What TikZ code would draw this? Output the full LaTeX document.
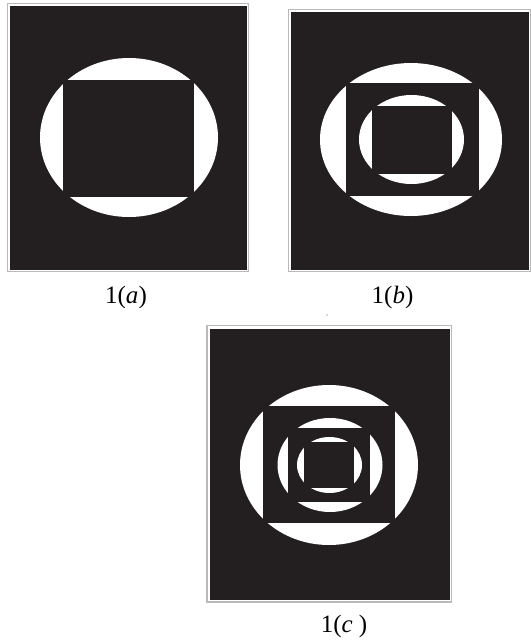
\documentclass[tikz,border=0pt]{standalone}
\usepackage{fontspec}
\setmainfont{Liberation Serif}
\usetikzlibrary{positioning}
\definecolor{inkblack}{HTML}{231F20}

\begin{document}
\begin{tikzpicture}[
                x=1pt, y=-1pt,
                panel/.style={fill=inkblack},
                frame/.style={draw=gray!55, line width=1.3pt},
                hole/.style={fill=white},
                plug/.style={fill=inkblack},
                caption/.style={anchor=base, inner sep=0pt, font=\fontsize{25}{28}\selectfont}
            ]
            \useasboundingbox (0,0) rectangle (531,641);
            % panel 1(a)
            \draw[frame] (7.5,3.5) rectangle (248.5,271.5);
            \fill[panel] (10,5.5) rectangle (247,270);
            \fill[hole] (129,137.5) ellipse [x radius=89pt, y radius=79.5pt];
            \fill[plug] (63,80) rectangle (194,197);
            % panel 1(b)
            \draw[frame] (288.5,9.5) rectangle (530.5,271.5);
            \fill[panel] (291,12) rectangle (528.5,269.5);
            \fill[hole] (411,139.5) ellipse [x radius=91pt, y radius=76.5pt];
            \fill[plug] (346,83) rectangle (479,196);
            \fill[hole] (411.5,139.5) ellipse [x radius=52.5pt, y radius=44.5pt];
            \fill[plug] (372,106) rectangle (452,174);
            % panel 1(c)
            \draw[frame] (207,325.5) rectangle (451.5,602);
            \fill[panel] (209.5,328.5) rectangle (449.5,600);
            \fill[hole] (329,465) ellipse [x radius=89pt, y radius=80pt];
            \fill[plug] (263,406) rectangle (395,523);
            \fill[hole] (330,465) ellipse [x radius=52.5pt, y radius=47pt];
            \fill[plug] (288,428) rectangle (370,502);
            \fill[hole] (329.5,465) ellipse [x radius=32.5pt, y radius=28pt];
            \fill[plug] (304,442) rectangle (354,488);
            % stray speck
            \fill[gray!60] (327,315) circle (0.8pt);
            % captions
            \node[caption] (capa) at (126,303) {1(\textit{a})};
            \node[caption] (capb) at (392.5,303) {1(\textit{b})};
            \node[caption] (capc) at (344,632) {1(\textit{c} )};
        \end{tikzpicture}
\end{document}
